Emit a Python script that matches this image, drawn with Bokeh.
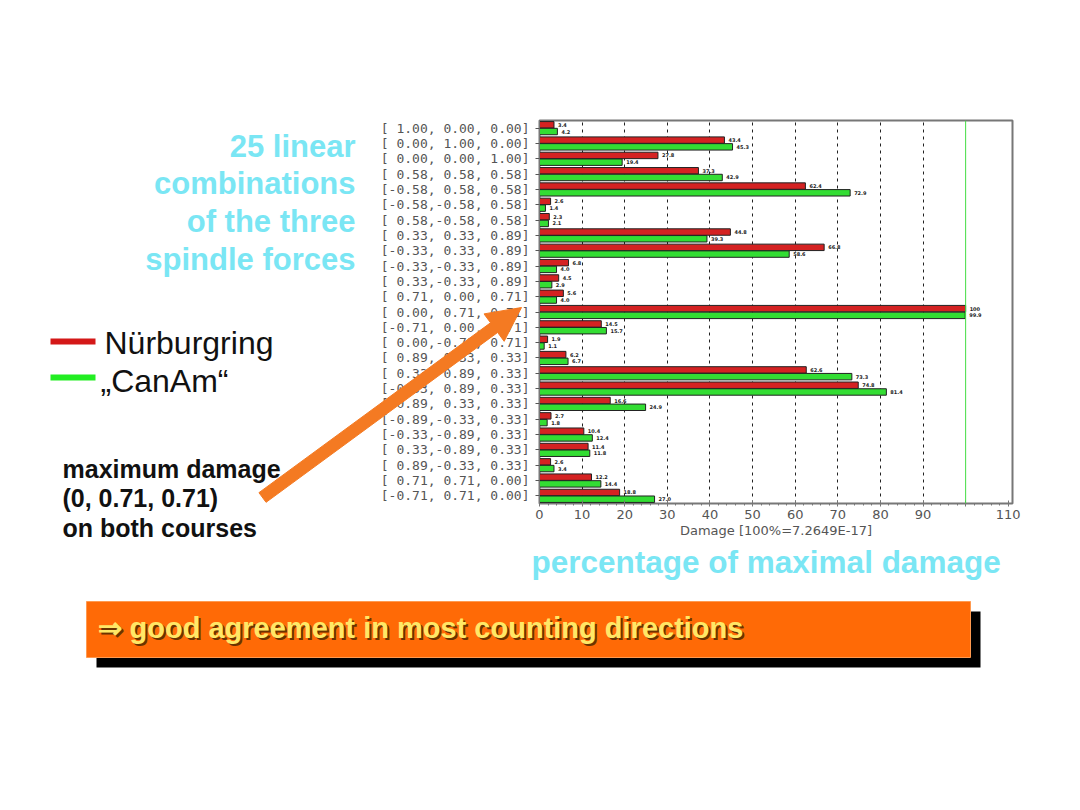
import math
from bokeh.plotting import figure
from bokeh.models import (FactorRange, Range1d, Label, Span, FixedTicker, ColumnDataSource,
                          GridBox)
from bokeh.transform import dodge
from bokeh.embed import file_html
from bokeh.resources import INLINE
from bokeh.core.properties import value

# ---------------- data ----------------
categories = [
    "[ 1.00, 0.00, 0.00]", "[ 0.00, 1.00, 0.00]", "[ 0.00, 0.00, 1.00]",
    "[ 0.58, 0.58, 0.58]", "[-0.58, 0.58, 0.58]", "[-0.58,-0.58, 0.58]",
    "[ 0.58,-0.58, 0.58]", "[ 0.33, 0.33, 0.89]", "[-0.33, 0.33, 0.89]",
    "[-0.33,-0.33, 0.89]", "[ 0.33,-0.33, 0.89]", "[ 0.71, 0.00, 0.71]",
    "[ 0.00, 0.71, 0.71]", "[-0.71, 0.00, 0.71]", "[ 0.00,-0.71, 0.71]",
    "[ 0.89, 0.33, 0.33]", "[ 0.33, 0.89, 0.33]", "[-0.33, 0.89, 0.33]",
    "[-0.89, 0.33, 0.33]", "[-0.89,-0.33, 0.33]", "[-0.33,-0.89, 0.33]",
    "[ 0.33,-0.89, 0.33]", "[ 0.89,-0.33, 0.33]", "[ 0.71, 0.71, 0.00]",
    "[-0.71, 0.71, 0.00]",
]
nurburgring = [3.4, 43.4, 27.8, 37.3, 62.4, 2.6, 2.3, 44.8, 66.8, 6.8, 4.5, 5.6, 100.0,
               14.5, 1.9, 6.2, 62.6, 74.8, 16.6, 2.7, 10.4, 11.4, 2.6, 12.2, 18.8]
canam = [4.2, 45.3, 19.4, 42.9, 72.9, 1.4, 2.1, 39.3, 58.6, 4.0, 2.9, 4.0, 99.9,
         15.7, 1.1, 6.7, 73.3, 81.4, 24.9, 1.8, 12.4, 11.8, 3.4, 14.4, 27.0]
x_ticks = [0, 10, 20, 30, 40, 50, 60, 70, 80, 90, 100, 110]
grid_ticks = [10, 20, 30, 40, 50, 60, 70, 80, 90]
max_value = 100

def fmt(v):
    return "100" if v >= 100 else f"{v:.1f}"

src = ColumnDataSource(dict(
    cat=categories, nur=nurburgring, can=canam,
    nur_txt=[fmt(v) for v in nurburgring], can_txt=[fmt(v) for v in canam],
))

W, H = 1064, 794
FL, FR, FT, FB = 539, 1012, 120, 503   # frame edges in picture pixels

# ================= bar chart figure =================
p = figure(width=W, height=H, y_range=FactorRange(*reversed(categories)),
           x_range=Range1d(0, 111), output_backend="svg", toolbar_location=None,
           min_border_left=FL, min_border_right=W - FR, min_border_top=FT,
           min_border_bottom=H - FB)
p.background_fill_color = "white"
p.border_fill_color = "white"
p.outline_line_color = "#777777"
p.outline_line_width = 2

RED = "#d42222"
GREEN = "#33dd33"
p.hbar(y=dodge("cat", 0.22, range=p.y_range), left=0, right="nur", height=0.42,
       fill_color=RED, line_color="#222222", line_width=1, source=src)
p.hbar(y=dodge("cat", -0.22, range=p.y_range), left=0, right="can", height=0.42,
       fill_color=GREEN, line_color="#222222", line_width=1, source=src)
p.text(x="nur", y=dodge("cat", 0.22, range=p.y_range), text="nur_txt", x_offset=4,
       text_font_size="5px", text_font_style="bold", text_baseline="middle",
       text_color="#222222", text_font=value("DejaVu Sans"), source=src)
p.text(x="can", y=dodge("cat", -0.22, range=p.y_range), text="can_txt", x_offset=4,
       text_font_size="5px", text_font_style="bold", text_baseline="middle",
       text_color="#222222", text_font=value("DejaVu Sans"), source=src)

p.add_layout(Span(location=max_value, dimension="height", line_color="#44dd44",
                  line_width=1))

p.ygrid.visible = False
p.xgrid.ticker = FixedTicker(ticks=grid_ticks)
p.xgrid.grid_line_color = "#222222"
p.xgrid.grid_line_dash = "3 4"
p.xgrid.grid_line_width = 1

xa = p.xaxis[0]
xa.ticker = FixedTicker(ticks=x_ticks, minor_ticks=[i * 2 for i in range(56)])
xa.major_label_overrides = {100: ""}
xa.axis_label = "Damage [100%=7.2649E-17]"
xa.axis_label_text_font = "DejaVu Sans"
xa.axis_label_text_font_style = "normal"
xa.axis_label_text_font_size = "13px"
xa.axis_label_text_color = "#555555"
xa.axis_label_standoff = 1
xa.major_label_text_font = "DejaVu Sans"
xa.major_label_text_font_size = "13px"
xa.major_label_text_color = "#555555"
xa.major_label_standoff = 3
xa.axis_line_color = "#777777"
xa.major_tick_line_color = "#777777"
xa.minor_tick_line_color = "#777777"
xa.major_tick_in = 3
xa.major_tick_out = 3
xa.minor_tick_in = 0
xa.minor_tick_out = 2

ya = p.yaxis[0]
ya.major_label_text_font = "DejaVu Sans Mono"
ya.major_label_text_font_size = "13px"
ya.major_label_text_color = "#555555"
ya.major_label_standoff = 6
ya.axis_line_color = "#777777"
ya.major_tick_line_color = "#555555"
ya.major_tick_in = 0
ya.major_tick_out = 4

# ================= transparent overlay slide figure (pixel coordinates) =================
bg = figure(width=W, height=H, x_range=Range1d(0, W), y_range=Range1d(H, 0),
            output_backend="svg", toolbar_location=None, x_axis_location=None,
            y_axis_location=None, min_border=0)
bg.grid.visible = False
bg.outline_line_color = None
bg.background_fill_alpha = 0
bg.border_fill_alpha = 0

for f in (p, bg):
    try:
        f.frame_align = False
    except Exception:
        pass

def lab(text, x, y, size, color, style="bold", align="left", font="Liberation Sans"):
    bg.add_layout(Label(x=x, y=y, text=text, text_font=font, text_font_size=f"{size}px",
                        text_font_style=style, text_color=color, text_align=align,
                        text_baseline="middle"))

CYAN = "#7ae6f4"
for t, yy in zip(["25 linear", "combinations", "of the three", "spindle forces"],
                 [146, 183, 221, 259]):
    lab(t, 355, yy, 31, CYAN, align="right")

lab("percentage of maximal damage", 531, 561, 31.5, CYAN)

bg.quad(left=[50], right=[95], top=[338], bottom=[344], fill_color="#d41818",
        line_color=None)
bg.quad(left=[50], right=[95], top=[374], bottom=[380], fill_color="#22ee22",
        line_color=None)
lab("Nürburgring", 104, 342, 32, "#111111", style="normal")
lab("\u201eCanAm\u201c", 100, 380, 32, "#111111", style="normal")

for t, yy in zip(["maximum damage", "(0,  0.71,  0.71)", "on both courses"], [468, 497, 527]):
    lab(t, 62, yy, 25, "#111111")

# orange arrow as one polygon
ORANGE = "#f47a22"
x0, y0, x1, y1 = 262, 497, 521, 307
L = math.hypot(x1 - x0, y1 - y0)
ux, uy = (x1 - x0) / L, (y1 - y0) / L
nx, ny = -uy, ux
head_len, head_half, shaft_half = 34, 17, 6
bx, by = x1 - head_len * ux, y1 - head_len * uy
pts = [
    (x0 + shaft_half * nx, y0 + shaft_half * ny),
    (bx + shaft_half * nx, by + shaft_half * ny),
    (bx + head_half * nx, by + head_half * ny),
    (x1, y1),
    (bx - head_half * nx, by - head_half * ny),
    (bx - shaft_half * nx, by - shaft_half * ny),
    (x0 - shaft_half * nx, y0 - shaft_half * ny),
]
bg.patch(x=[a for a, _ in pts], y=[b for _, b in pts], fill_color=ORANGE,
         line_color=ORANGE)

bg.quad(left=[96], right=[980], top=[611], bottom=[667], fill_color="black",
        line_color=None)
bg.quad(left=[86], right=[970], top=[601], bottom=[657], fill_color="#ff6a06",
        line_color="#ff9a50", line_width=1)
lab("\u21d2 good agreement in most counting directions", 99, 629, 29, "#6b3300")
lab("\u21d2 good agreement in most counting directions", 97, 627, 29, "#ffe866")

layout = GridBox(children=[(p, 0, 0), (bg, 0, 0)])

open("out.html", "w").write(file_html(layout, INLINE))
